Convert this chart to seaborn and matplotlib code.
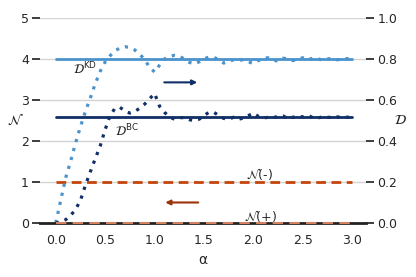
import numpy as np
import pandas as pd
import matplotlib
matplotlib.use("Agg")
import matplotlib.pyplot as plt
import seaborn as sns

sns.set_theme(style="whitegrid")

# alpha grid for the two curves
alpha = [0.0, 0.05, 0.1, 0.15, 0.2, 0.25, 0.3, 0.35, 0.4, 0.45,
         0.5, 0.55, 0.6, 0.65, 0.7, 0.75, 0.8, 0.85, 0.9, 0.95,
         1.0, 1.05, 1.1, 1.15, 1.2, 1.25, 1.3, 1.35, 1.4, 1.45,
         1.5, 1.55, 1.6, 1.65, 1.7, 1.75, 1.8, 1.85, 1.9, 1.95,
         2.0, 2.05, 2.1, 2.15, 2.2, 2.25, 2.3, 2.35, 2.4, 2.45,
         2.5, 2.55, 2.6, 2.65, 2.7, 2.75, 2.8, 2.85, 2.9, 2.95, 3.0]

# N along the KD curve (light blue dotted)
n_kd = [0.0, 0.55, 1.1, 1.5, 1.95, 2.35, 2.72, 3.05, 3.4, 3.7,
        3.93, 4.08, 4.2, 4.27, 4.3, 4.28, 4.22, 4.12, 3.98, 3.8,
        3.68, 3.85, 4.0, 4.06, 4.09, 4.07, 4.0, 3.92, 3.88, 3.93,
        4.0, 4.05, 4.04, 3.98, 3.9, 3.94, 3.98, 3.97, 3.98, 3.93,
        3.89, 3.96, 4.02, 4.03, 3.97, 3.95, 4.02, 4.0, 3.96, 4.0,
        4.03, 3.98, 4.02, 4.01, 3.97, 4.0, 4.02, 3.98, 4.0, 4.01, 4.0]

# N along the BC curve (navy dotted)
n_bc = [0.0, 0.02, 0.08, 0.18, 0.33, 0.55, 0.92, 1.25, 1.57, 1.88,
        2.28, 2.62, 2.8, 2.82, 2.73, 2.68, 2.72, 2.8, 2.9, 3.03,
        3.16, 2.85, 2.7, 2.59, 2.53, 2.57, 2.57, 2.52, 2.5, 2.53,
        2.62, 2.7, 2.7, 2.62, 2.55, 2.53, 2.58, 2.53, 2.56, 2.62,
        2.68, 2.6, 2.56, 2.58, 2.57, 2.6, 2.61, 2.55, 2.58, 2.6,
        2.59, 2.63, 2.57, 2.56, 2.59, 2.58, 2.57, 2.59, 2.56, 2.58, 2.62]

# constant levels
alpha_ends = [0.0, 3.0]
d_kd = 4.0
d_bc = 2.58
n_minus = 1.0
n_plus = 0.0

light_blue = "#4b93cc"
navy = "#0f2f66"
orange = "#c4450c"

df = pd.DataFrame({"alpha": alpha, "kd": n_kd, "bc": n_bc})

fig = plt.figure(figsize=(4.16, 2.77), dpi=100)
ax = fig.add_axes([0.096, 0.195, 0.784, 0.74])

sns.lineplot(x=alpha_ends, y=[d_kd, d_kd], color=light_blue, lw=2, ax=ax)
sns.lineplot(x=alpha_ends, y=[d_bc, d_bc], color=navy, lw=2, ax=ax)
sns.lineplot(x=alpha_ends, y=[n_minus, n_minus], color=orange, lw=2, ax=ax)
sns.lineplot(x=alpha_ends, y=[n_plus, n_plus], color="#d4825f", lw=1.5, ax=ax)
sns.lineplot(data=df, x="alpha", y="kd", color=light_blue, lw=2.3, ax=ax)
sns.lineplot(data=df, x="alpha", y="bc", color=navy, lw=2.3, ax=ax)

lines = ax.get_lines()
lines[2].set_linestyle((0, (3.5, 2)))
lines[3].set_linestyle((0, (5, 3)))
lines[3].set_zorder(4)
lines[3].set_clip_on(False)
for ln in lines[4:6]:
    ln.set_linestyle((0, (1.0, 1.9)))
    ln.set_dash_capstyle("butt")
    ln.set_solid_joinstyle("miter")

ax.annotate("", xy=(1.46, 3.43), xytext=(1.07, 3.43),
            arrowprops=dict(arrowstyle="-|>", color=navy, lw=1.5, mutation_scale=7))
ax.annotate("", xy=(1.08, 0.5), xytext=(1.47, 0.5),
            arrowprops=dict(arrowstyle="-|>", color="#9c3208", lw=1.5, mutation_scale=7))

ax.text(0.17, 3.75, r"$\mathcal{D}^{\rm KD}$", fontsize=9, va="center")
ax.text(0.6, 2.25, r"$\mathcal{D}^{\rm BC}$", fontsize=9, va="center")
ax.text(1.93, 1.2, r"$\mathcal{N}$(-)", fontsize=9, va="center")
ax.text(1.9, 0.18, r"$\mathcal{N}$(+)", fontsize=9, va="center")

ax.set_xlim(-0.16, 3.14)
ax.set_ylim(0, 5)
ax.set_xticks([0.0, 0.5, 1.0, 1.5, 2.0, 2.5, 3.0])
ax.set_xticklabels(["0.0", "0.5", "1.0", "1.5", "2.0", "2.5", "3.0"])
ax.set_yticks([0, 1, 2, 3, 4, 5])
ax.tick_params(labelsize=9, pad=2)
ax.grid(axis="x", visible=False)
ax.grid(axis="y", color="#d4d4d4", lw=1)
ax.set_xlabel("α", fontsize=10)
ax.set_ylabel(r"$\mathcal{N}$", fontsize=10, rotation=0, labelpad=4, va="center")
for s in ["left", "right", "top"]:
    ax.spines[s].set_visible(False)
ax.spines["bottom"].set_color("#222222")
ax.spines["bottom"].set_linewidth(2)

ax2 = ax.twinx()
ax2.set_ylim(0, 1)
ax2.set_yticks([0.0, 0.2, 0.4, 0.6, 0.8, 1.0])
ax2.set_yticklabels(["0.0", "0.2", "0.4", "0.6", "0.8", "1.0"])
ax2.grid(False)
ax2.tick_params(labelsize=9, pad=2)
ax2.set_ylabel(r"$\mathcal{D}$", fontsize=10, rotation=0, labelpad=2, va="center")
for s in ["left", "right", "top", "bottom"]:
    ax2.spines[s].set_visible(False)

fig.savefig("out.png", dpi=100)
